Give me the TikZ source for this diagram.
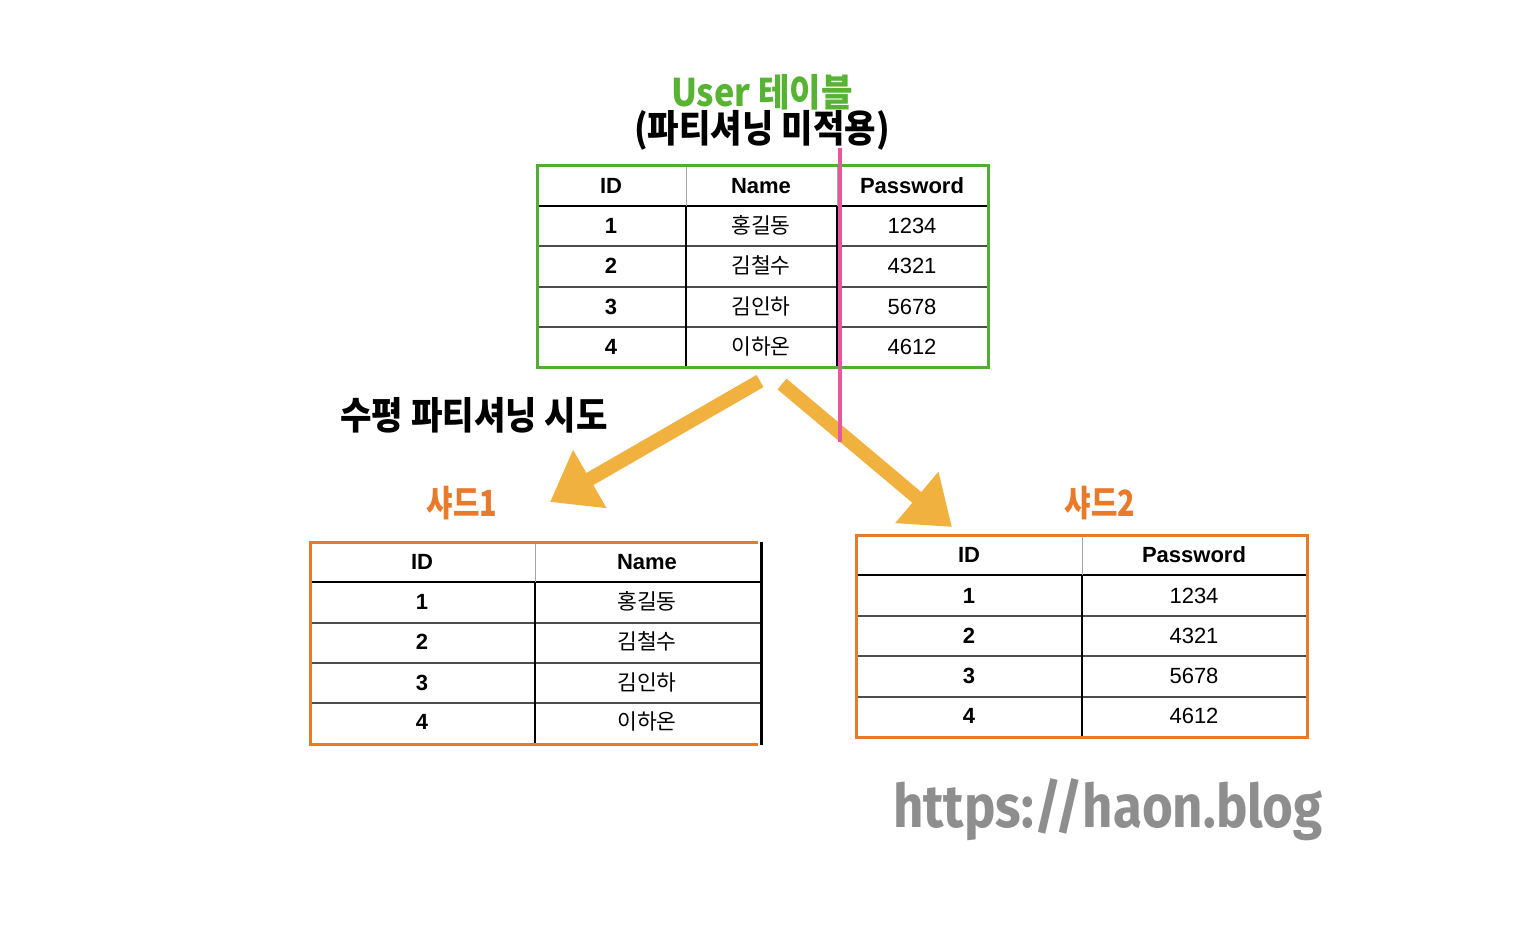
\documentclass[tikz,border=0pt]{standalone}
\usepackage{fontspec}
\setmainfont{Liberation Sans}
\newfontfamily\krfont{Noto Sans CJK KR}
\newfontfamily\titlefont[FakeStretch=0.9]{Noto Sans CJK KR}
\newfontfamily\shardfont[FakeStretch=0.8]{Noto Sans CJK KR}
\newfontfamily\urlfont[FakeStretch=0.88]{Fira Sans}
\usetikzlibrary{arrows.meta}

\definecolor{tblgreen}{RGB}{80,174,50}
\definecolor{titlegreen}{RGB}{88,178,52}
\definecolor{shardorange}{RGB}{232,122,44}
\definecolor{arrowgold}{RGB}{240,177,63}
\definecolor{markpink}{RGB}{232,85,160}
\definecolor{urlgray}{RGB}{142,142,142}

\tikzset{
    cell/.style={font=\fontsize{22}{24}\selectfont},
    idcell/.style={font=\fontsize{22}{24}\selectfont\bfseries},
    namecell/.style={font=\krfont\fontsize{21.5}{23}\selectfont},
    headline/.style={line width=2.6pt, color=black},
    rowline/.style={line width=1.3pt, color=black!70},
    colhead/.style={line width=1pt, color=black!35},
    colbody/.style={line width=2pt, color=black},
    bigarrow/.style={draw=arrowgold, line width=14pt, -{Triangle[length=46pt,width=64pt]}},
}

\begin{document}
\begin{tikzpicture}[x=1pt, y=-1pt]
    \useasboundingbox (0,0) rectangle (1536,950);

    % titles
    \node[font=\titlefont\bfseries\fontsize{38}{40}\selectfont, text=titlegreen] (title) at (762,92) {User 테이블};
    \node[font=\titlefont\bfseries\fontsize{38}{40}\selectfont] (subtitle) at (762,130) {(파티셔닝 미적용)};

    % user table (before partitioning)
    \foreach \y in {246, 287, 327}
        \draw[rowline] (537,\y) -- (988,\y);
    \draw[headline] (537,206) -- (988,206);
    \draw[colhead] (686,165) -- (686,206);
    \draw[colbody] (686,206) -- (686,367);
    \draw[colhead] (837,165) -- (837,206);
    \draw[colbody] (837,206) -- (837,367);
    \draw[line width=3pt, color=tblgreen] (537,165) rectangle (988,367);

    \node[idcell] (u-h-id) at (611,186) {ID};
    \node[idcell] (u-h-name) at (761,186) {Name};
    \node[idcell] (u-h-pw) at (912,186) {Password};
    \foreach \r/\y/\nm/\pw in {1/226/홍길동/1234, 2/266/김철수/4321, 3/307/김인하/5678, 4/347/이하온/4612} {
        \node[idcell] (u-id-\r) at (611,\y) {\r};
        \node[namecell] (u-name-\r) at (761,\y-1) {\nm};
        \node[cell] (u-pw-\r) at (912,\y) {\pw};
    }

    % arrows
    \coordinate (lsrc) at (760,381);
    \coordinate (ldst) at (550,502);
    \coordinate (rsrc) at (782,384);
    \coordinate (rdst) at (952,527);
    \draw[bigarrow] (lsrc) -- (ldst);
    \draw[bigarrow] (rsrc) -- (rdst);

    \node[font=\titlefont\bfseries\fontsize{38}{40}\selectfont] (trylabel) at (474,415) {수평 파티셔닝 시도};

    % shard 1
    \node[font=\shardfont\bfseries\fontsize{36}{38}\selectfont, text=shardorange] (shard1) at (462,503) {샤드1};
    \foreach \y in {623, 663, 703}
        \draw[rowline] (310,\y) -- (761,\y);
    \draw[headline] (310,582) -- (761,582);
    \draw[colhead] (535,542) -- (535,582);
    \draw[colbody] (535,582) -- (535,744);
    \draw[line width=3pt, color=shardorange] (758,542) -- (310,542) -- (310,744) -- (758,744);
    \draw[line width=3pt, color=black] (761,542) -- (761,745);

    \node[idcell] (s1-h-id) at (422,562) {ID};
    \node[idcell] (s1-h-name) at (647,562) {Name};
    \foreach \r/\y/\nm in {1/602/홍길동, 2/642/김철수, 3/683/김인하, 4/722/이하온} {
        \node[idcell] (s1-id-\r) at (422,\y) {\r};
        \node[namecell] (s1-name-\r) at (647,\y-1) {\nm};
    }

    % shard 2
    \node[font=\shardfont\bfseries\fontsize{36}{38}\selectfont, text=shardorange] (shard2) at (1100,503) {샤드2};
    \foreach \y in {616, 656, 697}
        \draw[rowline] (856,\y) -- (1307,\y);
    \draw[headline] (856,575) -- (1307,575);
    \draw[colhead] (1082,535) -- (1082,575);
    \draw[colbody] (1082,575) -- (1082,737);
    \draw[line width=3pt, color=shardorange] (856,535) rectangle (1307,737);

    \node[idcell] (s2-h-id) at (969,555) {ID};
    \node[idcell] (s2-h-pw) at (1194,555) {Password};
    \foreach \r/\y/\pw in {1/596/1234, 2/636/4321, 3/676/5678, 4/716/4612} {
        \node[idcell] (s2-id-\r) at (969,\y) {\r};
        \node[cell] (s2-pw-\r) at (1194,\y) {\pw};
    }

    % split mark
    \draw[line width=4pt, color=markpink] (840,148) -- (840,442);

    \node[font=\urlfont\bfseries\fontsize{60}{62}\selectfont, text=urlgray] (url) at (1108,810) {https://haon.blog};
\end{tikzpicture}
\end{document}
